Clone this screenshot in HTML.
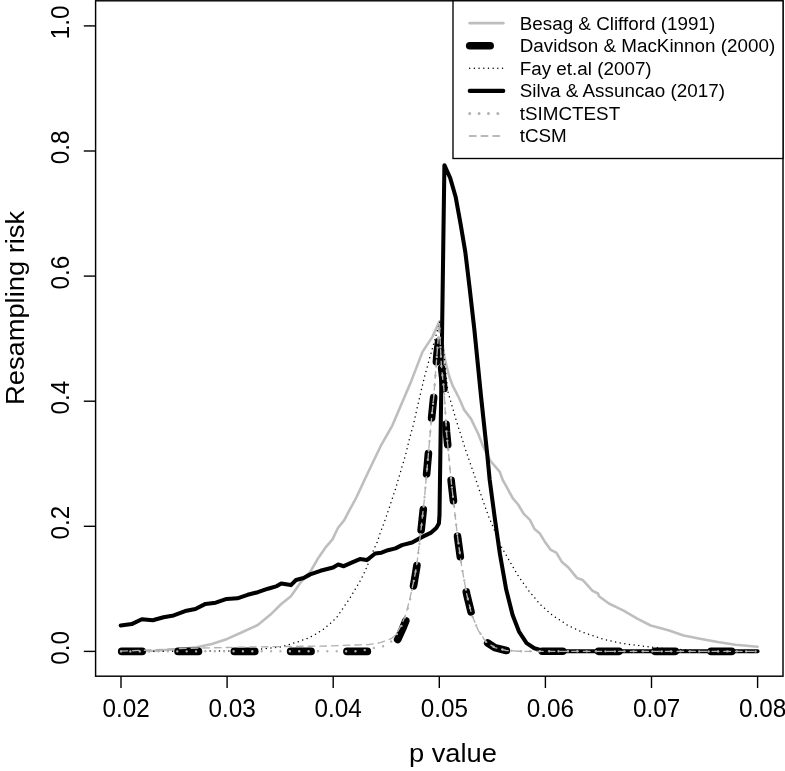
<!DOCTYPE html>
<html lang="en"><head><meta charset="utf-8"><title>Resampling risk</title>
<style>html,body{margin:0;padding:0;background:#fff}body{width:785px;height:771px;overflow:hidden}svg{display:block}text{font-family:"Liberation Sans",Arial,Helvetica,sans-serif;fill:#000}</style></head><body>
<svg width="785" height="771" viewBox="0 0 785 771">
<rect x="0" y="0" width="785" height="771" fill="#fff"/>
<g id="curves">
<polyline points="121.0,651.3 140.0,651.2 155.0,650.8 168.6,649.8 183.0,648.8 196.6,647.3 211.9,643.9 227.2,638.9 242.5,632.0 257.8,625.0 270.5,614.6 280.7,604.5 290.9,596.3 300.6,582.4 306.0,576.5 310.4,571.6 317.6,559.1 325.4,547.7 332.5,539.4 337.9,528.0 344.1,520.4 348.8,511.4 355.0,500.0 356.8,496.5 368.5,471.5 380.6,446.2 392.3,425.6 403.2,400.0 411.5,380.4 422.5,351.9 432.5,336.6 439.4,321.4 444.5,357.0 446.5,366.0 449.7,377.8 452.9,386.2 459.5,399.0 464.0,409.6 471.0,418.9 478.3,434.0 482.7,445.4 490.5,461.0 499.8,471.9 502.7,480.0 506.1,485.9 512.7,498.2 518.1,504.5 523.6,513.6 529.9,519.9 534.5,529.0 539.9,533.6 545.4,542.6 550.8,549.9 556.3,552.6 561.7,561.7 568.1,567.2 577.1,578.1 582.6,579.9 592.6,590.8 598.0,593.5 599.0,596.2 608.9,603.5 620.0,608.9 623.6,610.7 637.7,618.9 650.7,625.5 668.3,630.2 683.7,635.4 701.3,639.0 717.8,642.0 735.5,644.8 757.6,646.7" fill="none" stroke="#bebebe" stroke-width="2.60" stroke-linecap="round" stroke-linejoin="round"/>
<polyline points="121.0,651.4 385.0,651.4 392.0,648.5 398.0,639.0 402.5,629.0 406.5,619.0 410.0,604.0 413.8,584.5 417.2,563.8 420.5,536.0 424.3,500.0 427.4,465.0 431.2,422.0 433.8,396.0 437.1,353.0 439.2,337.0 441.4,366.0 443.9,389.0 446.5,432.0 449.0,458.0 451.5,484.0 453.7,503.0 457.8,538.6 461.7,566.6 466.8,594.6 471.8,615.0 478.2,630.3 485.9,641.8 494.8,647.6 506.2,650.5 520.0,651.3 757.6,651.4" fill="none" stroke="#000" stroke-width="7.60" stroke-linecap="round" stroke-linejoin="round" stroke-dasharray="20.5 35.8" stroke-dashoffset="-0.7"/>
<polyline points="121.0,651.4 230.0,651.0 255.0,649.8 270.2,648.0 279.6,647.1 288.9,644.5 298.2,641.7 307.6,638.4 315.4,634.4 323.2,629.5 330.9,623.0 336.4,617.8 340.3,612.2 344.9,605.4 348.8,599.9 351.9,594.8 355.8,588.2 360.5,580.3 363.6,574.2 366.2,568.4 368.3,563.3 373.8,549.5 377.3,542.0 380.0,533.5 385.2,519.7 390.0,505.5 395.4,489.2 401.9,467.0 405.6,454.8 409.6,438.0 413.2,425.5 418.5,402.0 424.8,375.5 432.5,348.0 438.9,325.1 439.6,322.0 443.0,345.0 447.8,391.3 456.7,421.9 465.6,449.9 475.5,478.5 480.5,493.6 488.2,515.5 493.6,528.1 500.9,546.0 508.1,558.5 517.2,574.4 528.1,589.9 539.9,604.2 552.1,615.0 558.1,618.9 567.4,625.2 582.7,632.4 603.1,639.2 623.4,643.6 647.0,646.7 670.7,649.0 700.0,650.5 757.6,651.3" fill="none" stroke="#000" stroke-width="1.50" stroke-linecap="round" stroke-linejoin="round" stroke-dasharray="0 4.69"/>
<polyline points="120.7,625.4 131.7,624.1 141.8,619.2 152.8,620.3 163.5,617.2 173.7,615.4 185.2,611.1 195.4,609.0 205.5,603.9 215.7,602.7 226.7,598.9 237.4,598.3 247.6,594.8 257.8,592.2 268.0,588.7 276.9,586.1 281.2,583.6 290.9,585.1 296.0,580.0 303.6,578.0 310.2,574.4 320.4,570.8 333.1,567.5 338.2,564.5 343.8,566.2 352.2,562.4 359.9,559.1 366.8,560.1 375.2,553.5 381.5,552.7 387.9,550.2 395.5,548.4 401.9,545.1 412.1,542.5 422.3,536.9 431.2,532.6 436.3,528.0 438.9,523.4 439.5,515.0 444.4,165.2 450.2,178.0 455.6,196.7 460.7,224.7 465.4,252.7 469.6,287.8 474.4,330.0 481.2,398.0 487.3,455.0 489.7,480.0 494.8,518.2 499.9,553.9 506.2,589.6 512.6,615.0 519.0,631.6 526.6,643.1 534.3,648.2 541.9,650.4 555.0,651.2 757.6,651.3" fill="none" stroke="#000" stroke-width="4.05" stroke-linecap="round" stroke-linejoin="round"/>
<polyline points="121.0,651.4 360.0,651.2 374.3,647.9 383.5,646.1 391.9,641.0 397.0,634.0 401.9,625.0 406.5,614.0 410.5,598.0 414.4,578.0 417.2,562.5 420.5,535.0 424.3,500.0 427.4,465.0 431.2,422.0 433.8,396.0 437.1,353.0 439.3,324.0 441.4,366.0 443.9,389.0 446.5,432.0 449.0,458.0 451.5,484.0 453.7,503.0 457.8,538.6 461.7,566.6 466.8,594.6 471.8,615.0 478.2,630.3 485.9,641.8 494.8,647.6 506.2,650.5 520.0,651.3 757.6,651.4" fill="none" stroke="#b4b4b4" stroke-width="2.40" stroke-linecap="round" stroke-linejoin="round" stroke-dasharray="0 9.38"/>
<polyline points="121.0,651.2 150.0,650.0 180.0,648.5 250.0,647.0 331.5,645.9 345.3,645.3 368.2,644.6 380.5,642.6 391.2,638.7 395.7,634.9 401.9,624.2 406.5,612.0 411.0,593.6 414.9,575.3 417.2,561.5 420.5,534.0 424.3,500.0 427.4,465.0 431.2,422.0 433.8,396.0 437.1,353.0 439.3,323.0 441.4,366.0 443.9,389.0 446.5,432.0 449.0,458.0 451.5,484.0 453.7,503.0 457.8,538.6 461.7,566.6 466.8,594.6 471.8,615.0 478.2,630.3 485.9,641.8 494.8,647.6 506.2,650.5 520.0,651.3 757.6,651.4" fill="none" stroke="#b0b0b0" stroke-width="1.35" stroke-linecap="round" stroke-linejoin="round" stroke-dasharray="6.6 5.1"/>
</g>
<rect x="95.6" y="0.8" width="687.4" height="675.4" fill="none" stroke="#000" stroke-width="1.45"/>
<g stroke="#000" stroke-width="1.4" stroke-linecap="butt">
<line x1="121.0" y1="676.15" x2="121.0" y2="688.0"/>
<line x1="227.1" y1="676.15" x2="227.1" y2="688.0"/>
<line x1="333.2" y1="676.15" x2="333.2" y2="688.0"/>
<line x1="439.3" y1="676.15" x2="439.3" y2="688.0"/>
<line x1="545.4" y1="676.15" x2="545.4" y2="688.0"/>
<line x1="651.5" y1="676.15" x2="651.5" y2="688.0"/>
<line x1="757.6" y1="676.15" x2="757.6" y2="688.0"/>
<line x1="95.6" y1="651.4" x2="83.8" y2="651.4"/>
<line x1="95.6" y1="526.3" x2="83.8" y2="526.3"/>
<line x1="95.6" y1="401.2" x2="83.8" y2="401.2"/>
<line x1="95.6" y1="276.1" x2="83.8" y2="276.1"/>
<line x1="95.6" y1="151.0" x2="83.8" y2="151.0"/>
<line x1="95.6" y1="25.9" x2="83.8" y2="25.9"/>
</g>
<g font-size="25.5px">
<text transform="translate(102.4,717.1) scale(0.953,1)">0.02</text>
<text transform="translate(208.5,717.1) scale(0.953,1)">0.03</text>
<text transform="translate(314.6,717.1) scale(0.953,1)">0.04</text>
<text transform="translate(420.7,717.1) scale(0.953,1)">0.05</text>
<text transform="translate(526.8,717.1) scale(0.953,1)">0.06</text>
<text transform="translate(632.9,717.1) scale(0.953,1)">0.07</text>
<text transform="translate(739.0,717.1) scale(0.953,1)">0.08</text>
<text transform="translate(69.1,664.7) rotate(-90) scale(0.953,1)">0.0</text>
<text transform="translate(69.1,539.6) rotate(-90) scale(0.953,1)">0.2</text>
<text transform="translate(69.1,414.5) rotate(-90) scale(0.953,1)">0.4</text>
<text transform="translate(69.1,289.4) rotate(-90) scale(0.953,1)">0.6</text>
<text transform="translate(69.1,164.3) rotate(-90) scale(0.953,1)">0.8</text>
<text transform="translate(69.1,39.2) rotate(-90) scale(0.953,1)">1.0</text>
</g>
<text transform="translate(408.9,762.1) scale(1.03,1)" font-size="26.5px">p value</text>
<text transform="translate(23.9,405.0) rotate(-90) scale(1.03,1)" font-size="26.5px">Resampling risk</text>
<rect x="453.0" y="0.8" width="330.0" height="157.7" fill="#fff" stroke="#000" stroke-width="1.35"/>
<line x1="469.7" y1="23.20" x2="503.3" y2="23.20" stroke="#bebebe" stroke-width="2.75" stroke-linecap="round"/>
<text transform="translate(519.7,29.50) scale(1.062,1)" font-size="17.75px">Besag &amp; Clifford (1991)</text>
<line x1="469.7" y1="45.76" x2="503.3" y2="45.76" stroke="#000" stroke-width="7.60" stroke-linecap="round" stroke-dasharray="20.5 35.8"/>
<text transform="translate(519.7,52.06) scale(1.062,1)" font-size="17.75px">Davidson &amp; MacKinnon (2000)</text>
<line x1="469.7" y1="68.32" x2="503.3" y2="68.32" stroke="#000" stroke-width="1.50" stroke-linecap="round" stroke-dasharray="0 4.69"/>
<text transform="translate(519.7,74.62) scale(1.062,1)" font-size="17.75px">Fay et.al (2007)</text>
<line x1="469.7" y1="90.88" x2="503.3" y2="90.88" stroke="#000" stroke-width="4.05" stroke-linecap="round"/>
<text transform="translate(519.7,97.18) scale(1.062,1)" font-size="17.75px">Silva &amp; Assuncao (2017)</text>
<line x1="469.7" y1="113.44" x2="503.3" y2="113.44" stroke="#b0b0b0" stroke-width="3.00" stroke-linecap="round" stroke-dasharray="0 9.38"/>
<text transform="translate(519.7,119.74) scale(1.062,1)" font-size="17.75px">tSIMCTEST</text>
<line x1="469.7" y1="136.00" x2="503.3" y2="136.00" stroke="#bababa" stroke-width="1.90" stroke-linecap="round" stroke-dasharray="6.2 5.5"/>
<text transform="translate(519.7,142.30) scale(1.062,1)" font-size="17.75px">tCSM</text>
</svg></body></html>
